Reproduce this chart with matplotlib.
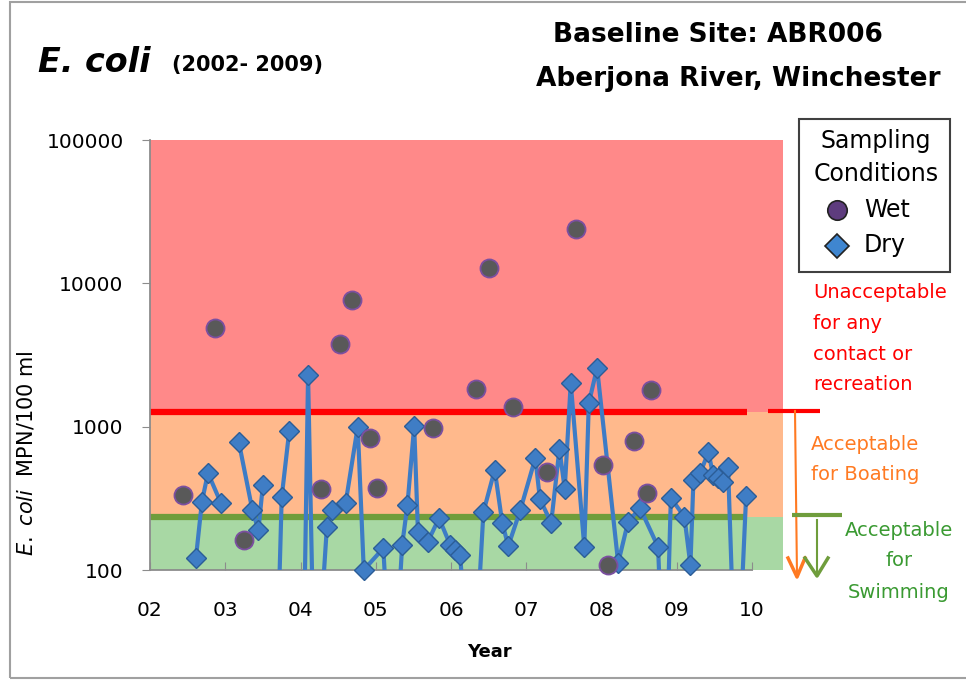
import numpy as np
import matplotlib
matplotlib.use('Agg')
import matplotlib.pyplot as plt
from matplotlib.patches import Rectangle
from matplotlib.lines import Line2D
from matplotlib.ticker import NullLocator

plt.rcParams.update({
    'font.family': ['DejaVu Sans'],
    'mathtext.fontset': 'dejavusans',
})

W, H = 966, 681

# dry weather samples (decimal year, E. coli MPN/100 ml)
# nan = break in the line, 10 = result below the plotted range
dry_year = [2002.61, 2002.69, 2002.77, 2002.94, 2003.06, 2003.18, 2003.36, 2003.44, 2003.50,
            2003.60, 2003.67, 2003.75, 2003.85, 2003.95, 2004.03, 2004.10, 2004.19, 2004.35,
            2004.42, 2004.60, 2004.76, 2004.84, 2005.10, 2005.22, 2005.35, 2005.42, 2005.51,
            2005.56, 2005.69, 2005.84, 2005.99, 2006.05, 2006.12, 2006.28, 2006.43, 2006.58,
            2006.68, 2006.76, 2006.92, 2007.12, 2007.18, 2007.33, 2007.44, 2007.51, 2007.59,
            2007.77, 2007.83, 2007.94, 2008.22, 2008.35, 2008.51, 2008.75, 2008.84, 2008.92,
            2009.10, 2009.18, 2009.22, 2009.31, 2009.42, 2009.48, 2009.55, 2009.61, 2009.68,
            2009.79, 2009.92]
dry_ecoli = [121, 300, 475, 295, np.nan, 781, 262, 190, 392,
             np.nan, 10, 324, 933, np.nan, 10, 2300, 10, 200,
             262, 295, 1000, 100, 142, 10, 149, 284, 1010,
             184, 157, 230, 149, 138, 127, 10, 254, 500,
             213, 147, 262, 605, 313, 213, 700, 367, 2020,
             145, 1460, 2570, 112, 215, 271, 145, 10, 318,
             235, 108, 425, 475, 665, 460, 438, 411, 523,
             10, 328]

# wet weather samples
wet_year = [2002.44, 2002.86, 2003.25, 2004.27, 2004.52, 2004.68, 2004.92, 2005.02, 2005.76,
            2006.33, 2006.50, 2006.82, 2007.28, 2007.66, 2008.02, 2008.09, 2008.43, 2008.60,
            2008.66]
wet_ecoli = [334, 4900, 162, 367, 3800, 7600, 835, 373, 980,
             1830, 12800, 1370, 483, 24000, 540, 108, 800, 345,
             1800]

year_ticks = [2002, 2003, 2004, 2005, 2006, 2007, 2008, 2009, 2010]
year_labels = ['02', '03', '04', '05', '06', '07', '08', '09', '10']
y_ticks = [100, 1000, 10000, 100000]
y_labels = ['100', '1000', '10000', '100000']

SWIM_LIMIT = 235
BOAT_LIMIT = 1260

RED = '#FF0000'
ORANGE = '#FF7A22'
GREEN_TXT = '#3A9A32'
GREEN_LINE = '#6F9D3C'
GRAY = '#8C8C8C'


def fx(x):
    return x / W


def fy(y):
    return 1 - y / H


def seg(xs, ys, **kw):
    # decoration drawn in figure pixel coordinates
    fig.add_artist(Line2D([fx(v) for v in xs], [fy(v) for v in ys], **kw))


fig = plt.figure(figsize=(W / 100, H / 100), dpi=100)
ax = fig.add_axes([fx(150), fy(570), 633 / W, 430 / H])

ax.set_yscale('log')
ax.set_ylim(100, 100000)
ax.set_xlim(2002, 2010.41)

# acceptability bands
ax.axhspan(100, SWIM_LIMIT, color='#A8D8A4', lw=0, zorder=0)
ax.axhspan(SWIM_LIMIT, BOAT_LIMIT, color='#FFB98C', lw=0, zorder=0)
ax.axhspan(BOAT_LIMIT, 100000, color='#FF8989', lw=0, zorder=0)

ax.plot([2002, 2009.93], [BOAT_LIMIT, BOAT_LIMIT], color=RED, lw=4.5,
        solid_capstyle='butt', zorder=2)
ax.plot([2002, 2009.93], [SWIM_LIMIT, SWIM_LIMIT], color=GREEN_LINE, lw=4.5,
        solid_capstyle='butt', zorder=2)

# dry: connected line (clipped) + markers (not clipped at the floor)
dy = np.array(dry_year)
de = np.array(dry_ecoli, dtype=float)
ax.plot(dy, de, color='#3D7CC6', lw=3, zorder=3)
keep = de >= 100
ax.plot(dy[keep], de[keep], ls='none', marker='D', ms=10.5, mfc='#3F7DC5',
        mec='#2B5D97', mew=1, zorder=4, clip_on=False)

# wet: markers only
ax.plot(wet_year, wet_ecoli, ls='none', marker='o', ms=13, mfc='#595959',
        mec='#7B4FA0', mew=1.3, zorder=5, clip_on=False)

for s in ['top', 'right']:
    ax.spines[s].set_visible(False)
for s in ['left', 'bottom']:
    ax.spines[s].set_color(GRAY)
    ax.spines[s].set_linewidth(1.3)
ax.spines['bottom'].set_bounds(2002, 2010)

ax.set_xticks(year_ticks, year_labels)
ax.set_yticks(y_ticks, y_labels)
ax.yaxis.set_minor_locator(NullLocator())
ax.tick_params(axis='x', direction='in', length=6, color=GRAY, labelsize=14.5, pad=22)
ax.tick_params(axis='y', direction='out', length=6, color=GRAY, labelsize=14.5, pad=13)

ax.set_ylabel(r'$\mathit{E.\ coli}$  MPN/100 ml', fontsize=15)
ax.yaxis.set_label_coords((36 - 150) / 633, (570 - 453) / 430)

fig.text(fx(489), fy(652), 'Year', fontsize=13, fontweight='bold', ha='center', va='center')

# titles
fig.text(fx(38), fy(62), 'E. coli', fontsize=24, fontweight='bold', style='italic',
         ha='left', va='center')
fig.text(fx(172), fy(65), '(2002- 2009)', fontsize=15, fontweight='bold',
         ha='left', va='center')
fig.text(fx(718), fy(35), 'Baseline Site: ABR006', fontsize=19, fontweight='bold',
         ha='center', va='center')
fig.text(fx(738), fy(79), 'Aberjona River, Winchester', fontsize=19, fontweight='bold',
         ha='center', va='center')

# legend
fig.add_artist(Rectangle((fx(799), fy(272)), (950 - 799) / W, (272 - 119) / H,
                         transform=fig.transFigure, fill=True, fc='white',
                         ec='#404040', lw=1.5))
fig.text(fx(876), fy(141), 'Sampling', fontsize=17, ha='center', va='center')
fig.text(fx(876), fy(174), 'Conditions', fontsize=17, ha='center', va='center')
fig.add_artist(Line2D([fx(837)], [fy(210)], marker='o', ms=14, mfc='#5E3C7E',
                      mec='#222222', mew=1.2, ls='none'))
fig.add_artist(Line2D([fx(837)], [fy(246)], marker='D', ms=12, mfc='#3F86D0',
                      mec='#222222', mew=1.2, ls='none'))
fig.text(fx(864), fy(210), 'Wet', fontsize=17, ha='left', va='center')
fig.text(fx(864), fy(245), 'Dry', fontsize=17, ha='left', va='center')

# standards annotations on the right
for i, t in enumerate(['Unacceptable', 'for any', 'contact or', 'recreation']):
    fig.text(fx(813), fy(293 + 30.5 * i), t, fontsize=14, color=RED, ha='left', va='center')
for i, t in enumerate(['Acceptable', 'for Boating']):
    fig.text(fx(811), fy(444 + 31 * i), t, fontsize=14, color=ORANGE, ha='left', va='center')
for i, t in enumerate(['Acceptable', 'for', 'Swimming']):
    fig.text(fx(899), fy(530 + 31 * i), t, fontsize=14, color=GREEN_TXT, ha='center', va='center')

seg([768, 820], [411, 411], color=RED, lw=3, solid_capstyle='butt')
seg([795, 797], [411, 576], color=ORANGE, lw=1.5)
seg([788, 797, 805], [558, 577, 558], color=ORANGE, lw=2.5)
seg([792, 842], [515, 515], color=GREEN_LINE, lw=3, solid_capstyle='butt')
seg([817, 817], [520, 575], color=GREEN_LINE, lw=1.5)
seg([805, 817, 828], [558, 576, 558], color=GREEN_LINE, lw=2.5)

# outer frame
fig.add_artist(Rectangle((fx(10), fy(678)), (970 - 10) / W, (678 - 2) / H,
                         transform=fig.transFigure, fill=False, ec='#A0A0A0', lw=1.5))

fig.savefig('out.png', dpi=100)
